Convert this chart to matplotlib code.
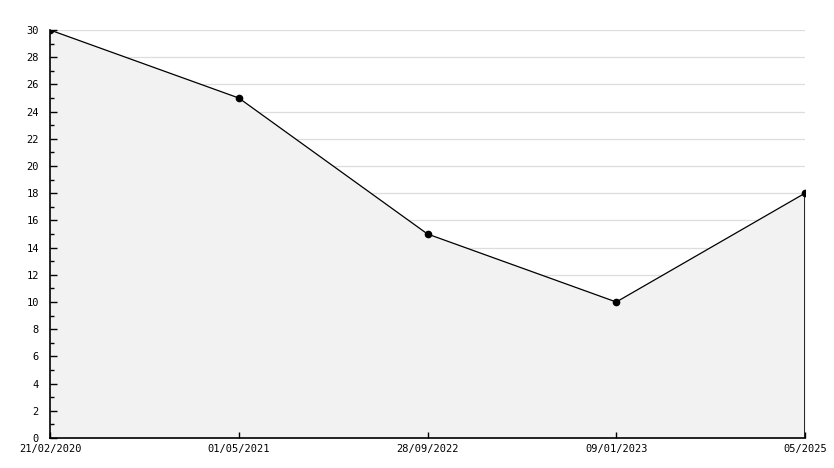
import matplotlib
matplotlib.use("Agg")
import matplotlib.pyplot as plt
from matplotlib.ticker import MultipleLocator

categories = ["21/02/2020", "01/05/2021", "28/09/2022", "09/01/2023", "05/2025"]
values = [30, 25, 15, 10, 18]
y_major = list(range(0, 31, 2))

plt.rcParams["font.family"] = ["DejaVu Sans Mono", "DejaVu Sans"]

W, H = 834, 468
fig = plt.figure(figsize=(W/100, H/100), dpi=100)
ax = fig.add_axes([50/W, (H-438)/H, (805-50)/W, (438-30)/H])

x = list(range(len(categories)))
ax.hlines(y_major[1:], x[0], x[-1], color="#dddddd", lw=0.9, zorder=0.5)
ax.fill_between(x, values, 0, color="#f2f2f2", zorder=1)
ax.plot(x, values, color="black", lw=0.9, zorder=3)
ax.plot(x, values, linestyle="none", marker="o", ms=4.5, color="black", zorder=4)
ax.vlines(x[-1], 0, values[-1], color="black", lw=1.2, zorder=3)

ax.set_xlim(x[0], x[-1])
ax.set_ylim(0, 30)
ax.set_xticks(x)
ax.set_xticklabels(categories)
ax.yaxis.set_major_locator(MultipleLocator(2))
ax.yaxis.set_minor_locator(MultipleLocator(1))
ax.set_axisbelow(False)

for s in ["top", "right"]:
    ax.spines[s].set_visible(False)
ax.spines["left"].set_linewidth(1.2)
ax.spines["bottom"].set_linewidth(1.2)

ax.tick_params(axis="y", which="major", direction="in", length=5, width=1, labelsize=7.5, pad=8)
ax.tick_params(axis="y", which="minor", direction="in", length=3, width=1)
ax.tick_params(axis="x", which="major", direction="in", length=4, width=1, labelsize=7.5, pad=4)

fig.savefig("out.png", dpi=100, facecolor="white")
